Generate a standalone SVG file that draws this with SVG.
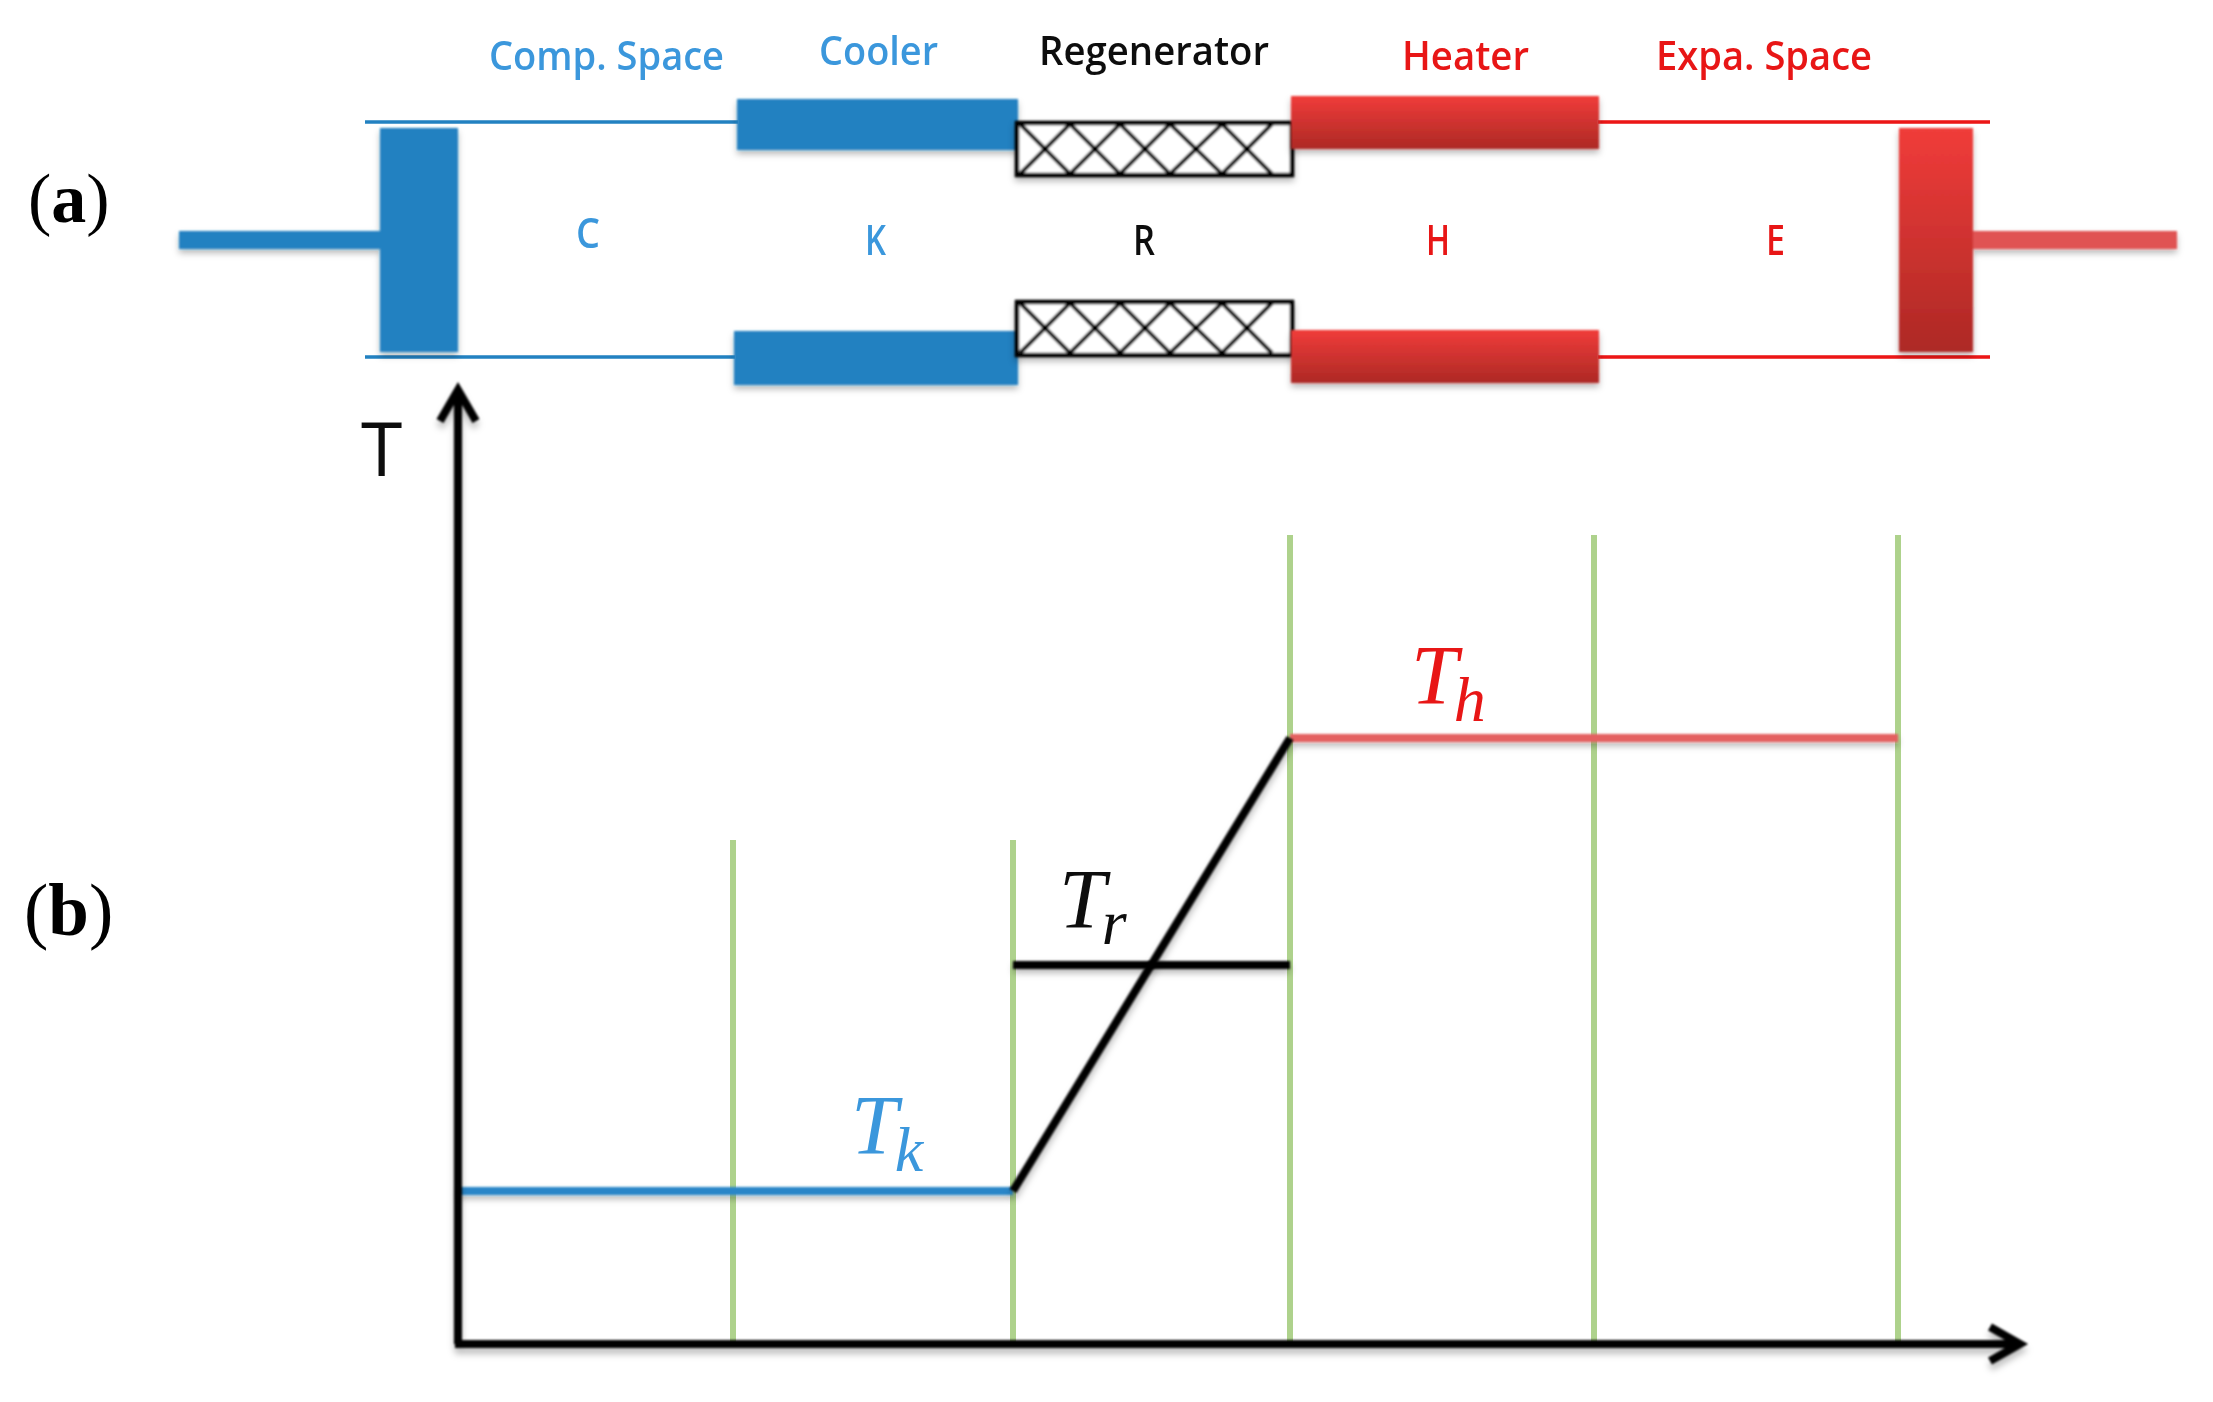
<svg xmlns="http://www.w3.org/2000/svg" width="2213" height="1402" viewBox="0 0 2213 1402">
<style>
.lbl{font-family:"Open Sans","Noto Sans",sans-serif;font-weight:600;font-size:40px}
.sym{font-family:"Open Sans","Noto Sans",sans-serif;font-weight:600;font-size:41px}
.blue{fill:#3a97dc}.red{fill:#e81515}.black{fill:#111}
.tag{font-family:"Liberation Serif",serif;font-weight:400;fill:#000}
.tag tspan{font-weight:700}
.math{font-family:"Liberation Serif",serif;font-style:italic;font-size:84px}
.math tspan{font-size:64px}
.pipe{stroke-width:3.5;fill:none}
.guide{stroke:#aed28c;stroke-width:6;fill:none}
.temp{stroke-width:8;fill:none}
.axis{stroke:#000;stroke-width:8;fill:none}
.mesh{fill:none;stroke:#000;stroke-width:4}
.box{fill:#fff;stroke:#000;stroke-width:4.5}
.sb{fill:#2481c1}
.sr{fill:url(#hot)}
</style>
<defs>
<linearGradient id="hot" x1="0" y1="0" x2="0" y2="1"><stop offset="0" stop-color="#f03c3a"/><stop offset="1" stop-color="#ad2925"/></linearGradient>
<filter id="sh" x="-10%" y="-30%" width="120%" height="180%"><feGaussianBlur in="SourceGraphic" stdDeviation="0.8" result="b"/><feDropShadow in="b" dx="0" dy="4" stdDeviation="3" flood-color="#000" flood-opacity="0.28"/></filter>
<filter id="shl" x="-5%" y="-5%" width="110%" height="110%"><feGaussianBlur in="SourceGraphic" stdDeviation="0.8" result="b"/><feDropShadow in="b" dx="0" dy="6" stdDeviation="3" flood-color="#000" flood-opacity="0.25"/></filter>
<filter id="soft" x="-5%" y="-5%" width="110%" height="110%"><feGaussianBlur stdDeviation="0.7"/></filter>
<path id="x5" d="M1020 0L1070 50L1120 0L1170 50L1222 0L1272 50M1020 50L1070 0L1120 50L1170 0L1222 50L1272 0"/>
</defs>
<g id="guides">
<path class="guide" d="M733 840V1344M1013 840V1344M1290 535V1344M1594 535V1344M1898 535V1344"/>
</g>
<g id="connectors">
<g filter="url(#soft)">
<path class="pipe" stroke="#2481c1" d="M365 122H738M365 357H735"/>
<path class="pipe" stroke="#ec1212" d="M1598 122H1990M1598 357H1990"/>
</g>
<g filter="url(#sh)">
<path class="temp" stroke="#e46060" d="M1290 738H1898"/>
<path class="temp" stroke="#2c86c8" d="M458 1191H1013"/>
<path class="temp" stroke="#000" d="M1013 965H1290"/>
</g>
<path filter="url(#shl)" class="axis" d="M1013 1191L1290 738"/>
<g filter="url(#shl)">
<path class="axis" d="M458 1344V390M440 421L458 390L476 421"/>
<path class="axis" d="M455 1344H2020M1990 1327L2020 1344L1990 1361"/>
</g>
</g>
<g id="compression-piston" filter="url(#sh)">
<rect class="sb" x="179" y="231" width="203" height="18"/>
<rect class="sb" x="380" y="128" width="78" height="224"/>
</g>
<g id="cooler" filter="url(#sh)">
<rect class="sb" x="737" y="99" width="281" height="51"/>
<rect class="sb" x="734" y="331" width="284" height="54"/>
</g>
<g id="regenerator" filter="url(#sh)">
<rect class="box" x="1017" y="123" width="275" height="52"/>
<use href="#x5" class="mesh" y="124"/>
<rect class="box" x="1017" y="302" width="275" height="53"/>
<use href="#x5" class="mesh" y="303"/>
</g>
<g id="heater" filter="url(#sh)">
<rect class="sr" x="1291" y="96" width="308" height="53"/>
<rect class="sr" x="1291" y="330" width="308" height="53"/>
</g>
<g id="expansion-piston" filter="url(#sh)">
<rect x="1973" y="231" width="204" height="18" fill="#e05252"/>
<rect class="sr" x="1899" y="128" width="74" height="224"/>
</g>
<g id="labels" filter="url(#soft)">
<text class="lbl blue" x="489" y="70" textLength="235" lengthAdjust="spacingAndGlyphs">Comp. Space</text>
<text class="lbl blue" x="819" y="65" textLength="119" lengthAdjust="spacingAndGlyphs">Cooler</text>
<text class="lbl black" x="1039" y="65" textLength="230" lengthAdjust="spacingAndGlyphs">Regenerator</text>
<text class="lbl red" x="1402" y="70" textLength="127" lengthAdjust="spacingAndGlyphs">Heater</text>
<text class="lbl red" x="1656" y="70" textLength="216" lengthAdjust="spacingAndGlyphs">Expa. Space</text>
<text class="sym blue" x="576" y="248" textLength="24" lengthAdjust="spacingAndGlyphs">C</text>
<text class="sym blue" x="865" y="255" textLength="21" lengthAdjust="spacingAndGlyphs">K</text>
<text class="sym black" x="1133" y="255" textLength="22" lengthAdjust="spacingAndGlyphs">R</text>
<text class="sym red" x="1426" y="255" textLength="24" lengthAdjust="spacingAndGlyphs">H</text>
<text class="sym red" x="1766" y="255" textLength="19" lengthAdjust="spacingAndGlyphs">E</text>
</g>
<g id="panel-tags">
<text class="tag" x="28" y="222" font-size="70">(<tspan>a</tspan>)</text>
<text class="tag" x="24" y="935" font-size="73">(<tspan>b</tspan>)</text>
</g>
<g id="axis-label" filter="url(#soft)">
<text x="361" y="476" font-family="'Open Sans','Noto Sans',sans-serif" font-weight="500" font-size="75" fill="#111">T</text>
</g>
<g id="math-labels" filter="url(#soft)">
<text class="math" x="1411" y="704" fill="#e81515">T<tspan dx="-4" dy="17">h</tspan></text>
<text class="math" x="851" y="1154" fill="#3a97dc">T<tspan dx="-3" dy="17">k</tspan></text>
<text class="math" x="1059" y="928" fill="#111">T<tspan dx="-4" dy="16">r</tspan></text>
</g>
</svg>
